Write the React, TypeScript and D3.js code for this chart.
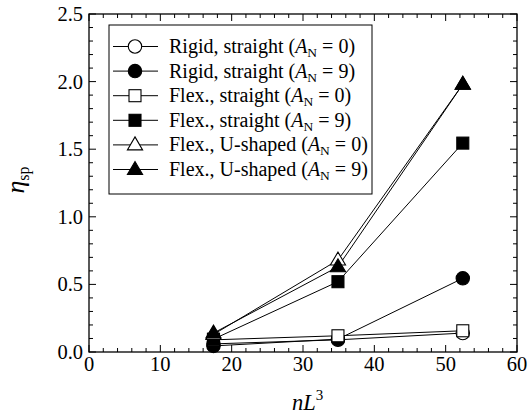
import React from "react";
import * as d3 from "d3";

const xValues = [17.45, 34.9, 52.4];
const seriesNames = [
  "Rigid, straight",
  "Rigid, straight",
  "Flex., straight",
  "Flex., straight",
  "Flex., U-shaped",
  "Flex., U-shaped",
];
const seriesAN = ["0", "9", "0", "9", "0", "9"];
const seriesShapes = ["circle", "circle", "square", "square", "triangle", "triangle"];
const seriesFilled = [false, true, false, true, false, true];
const rigid0 = [0.06, 0.09, 0.14];
const rigid9 = [0.045, 0.095, 0.545];
const flex0 = [0.09, 0.12, 0.157];
const flex9 = [0.095, 0.52, 1.545];
const u0 = [0.13, 0.68, 1.98];
const u9 = [0.14, 0.63, 1.98];
const seriesValues = [rigid0, rigid9, flex0, flex9, u0, u9];
const xTicks = [0, 10, 20, 30, 40, 50, 60];
const yTicks = [0, 0.5, 1.0, 1.5, 2.0, 2.5];

const W = 529, H = 416;
const L = 89, R = 517, T = 14, B = 352;
const FS = { fontFamily: '"Liberation Serif"' };

function Marker({ shape, filled, x, y }: { shape: string; filled: boolean; x: number; y: number }) {
  const fill = filled ? "#000" : "#fff";
  const sw = 1.1;
  if (shape === "circle") return <circle cx={x} cy={y} r={6.7} fill={fill} stroke="#000" strokeWidth={sw} />;
  if (shape === "square") return <rect x={x - 6} y={y - 6} width={12} height={12} fill={fill} stroke="#000" strokeWidth={sw} />;
  return (
    <path
      d={`M${x},${y - 8} L${x + 7.6},${y + 5} L${x - 7.6},${y + 5} Z`}
      fill={fill}
      stroke="#000"
      strokeWidth={sw}
    />
  );
}

export default function App() {
  const x = d3.scaleLinear().domain([0, 60]).range([L, R]);
  const y = d3.scaleLinear().domain([0, 2.5]).range([B, T]);
  const line = d3.line<number>().x((_, i) => x(xValues[i])).y((d) => y(d));
  const xMinor = d3.range(0, 60.001, 2);
  const yMinor = d3.range(0, 2.5001, 0.1);
  const legendRows = seriesNames.map((_, i) => 46.5 + i * 24.6);

  return (
    <svg width={W} height={H} style={{ position: "absolute", left: 0, top: 0, background: "#fff" }}>
      <g stroke="#000" strokeWidth={1}>
        {xMinor.map((v) => {
          const major = Math.abs(v % 10) < 1e-6;
          const len = major ? 7 : 4;
          return (
            <g key={"xm" + v}>
              <line x1={x(v)} x2={x(v)} y1={B} y2={B - len} />
              <line x1={x(v)} x2={x(v)} y1={T} y2={T + len} />
            </g>
          );
        })}
        {yMinor.map((v, i) => {
          const major = i % 5 === 0;
          const len = major ? 7 : 4;
          return (
            <g key={"ym" + i}>
              <line x1={L} x2={L + len} y1={y(v)} y2={y(v)} />
              <line x1={R} x2={R - len} y1={y(v)} y2={y(v)} />
            </g>
          );
        })}
      </g>
      <rect x={L} y={T} width={R - L} height={B - T} fill="none" stroke="#000" strokeWidth={1.3} />
      {xTicks.map((v) => (
        <text key={"xt" + v} x={x(v)} y={371} textAnchor="middle" fontSize={20.5} style={FS}>{v}</text>
      ))}
      {yTicks.map((v) => (
        <text key={"yt" + v} x={83} y={y(v) + 7} textAnchor="end" fontSize={20.5} style={FS}>{v.toFixed(1)}</text>
      ))}
      <text x={292} y={410} fontSize={22.5} fontStyle="italic" style={FS}>
        nL<tspan dy={-10} fontSize={15} fontStyle="normal">3</tspan>
      </text>
      <text transform="translate(23.5,180) rotate(-90)" textAnchor="middle" fontSize={26} fontStyle="italic" style={FS}>
        η<tspan dy={5} fontSize={16} fontStyle="normal">sp</tspan>
      </text>
      <g>
        {seriesValues.map((vals, i) => (
          <path key={"l" + i} d={line(vals) || ""} fill="none" stroke="#000" strokeWidth={1} />
        ))}
        {seriesValues.map((vals, i) =>
          vals.map((v, j) => (
            <Marker key={"m" + i + "-" + j} shape={seriesShapes[i]} filled={seriesFilled[i]} x={x(xValues[j])} y={y(v)} />
          ))
        )}
      </g>
      <rect x={109} y={25} width={263} height={169} fill="#fff" stroke="#000" strokeWidth={1} />
      {legendRows.map((ry, i) => (
        <g key={"lg" + i}>
          <line x1={113} x2={158} y1={ry} y2={ry} stroke="#000" strokeWidth={1} />
          <Marker shape={seriesShapes[i]} filled={seriesFilled[i]} x={135} y={ry} />
          <text x={169} y={ry + 6.5} fontSize={20} style={FS}>
            {seriesNames[i]} (<tspan fontStyle="italic">A</tspan>
            <tspan dy={4} fontSize={13.5}>N</tspan>
            <tspan dy={-4}> = {seriesAN[i]})</tspan>
          </text>
        </g>
      ))}
    </svg>
  );
}
